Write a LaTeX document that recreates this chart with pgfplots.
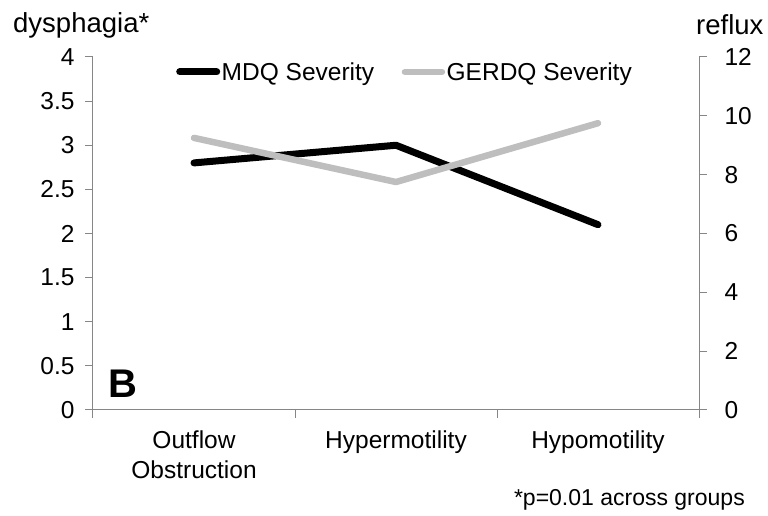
\documentclass[border=0pt]{standalone}
\usepackage{fontspec}
\setmainfont{Liberation Sans}
\usepackage{pgfplots}
\pgfplotsset{compat=1.18}
\definecolor{axisgray}{RGB}{134,134,134}
\definecolor{lgray}{RGB}{190,190,190}
\pgfplotsset{
  common/.style={
    at={(0,0)}, anchor=south west, scale only axis,
    width=606pt, height=353pt,
    xmin=-0.5, xmax=2.5,
    axis line style={axisgray, line width=1pt, -},
    tick align=outside, major tick length=8pt, minor tick length=8pt,
    tick style={axisgray, line width=1pt},
    /pgf/number format/assume math mode=true,
    ticklabel style={font=\fontsize{24.5}{28}\selectfont},
    clip=false,
  }
}
\begin{document}
\begin{tikzpicture}[x=1pt,y=1pt]
\useasboundingbox (-93,-106) rectangle (675,410);
\begin{axis}[common,
  ymin=0, ymax=4,
  axis x line*=bottom, axis y line*=left,
  ytick={0,0.5,1,1.5,2,2.5,3,3.5,4},
  yticklabels={0,0.5,1,1.5,2,2.5,3,3.5,4},
  yticklabel style={xshift=-7pt},
  xtick={0,1,2},
  xticklabels={{Outflow\\Obstruction},Hypermotility,Hypomotility},
  major x tick style={draw=none},
  minor xtick={-0.5,0.5,1.5,2.5},
  xticklabel style={align=center, yshift=-9pt, font=\fontsize{24.5}{30}\selectfont},
]
\addplot[black, line width=7pt, line cap=round, line join=round] coordinates {(0,2.8) (1,3.0) (2,2.1)};
\end{axis}
\begin{axis}[common,
  ymin=0, ymax=12,
  hide x axis, axis y line*=right,
  ytick={0,2,4,6,8,10,12},
  yticklabels={0,2,4,6,8,10,12},
  yticklabel style={xshift=14pt},
  legend columns=2,
  legend image code/.code={\draw[#1, line cap=round] (0pt,0pt) -- (37pt,0pt);},
  legend style={at={(0.137,0.9575)}, anchor=west, draw=none, fill=none, inner sep=0pt,
    font=\fontsize{24.5}{28}\selectfont,
    nodes={inner sep=1.5pt},
    /tikz/every even column/.append style={column sep=26pt}},
]
\addlegendimage{black, line width=7pt}
\addlegendentry{MDQ Severity}
\addplot[lgray, line width=6.5pt, line cap=round, line join=round] coordinates {(0,9.25) (1,7.75) (2,9.75)};
\addlegendentry{GERDQ Severity}
\end{axis}
\node[anchor=base west, inner sep=0pt, font=\fontsize{27.5}{30}\selectfont] at (-80,377) {dysphagia*};
\node[anchor=base west, inner sep=0pt, font=\fontsize{27.5}{30}\selectfont] at (603,375) {reflux};
\node[anchor=base west, inner sep=0pt, font=\bfseries\fontsize{40}{44}\selectfont] at (15,12) {B};
\node[anchor=base east, inner sep=0pt, font=\fontsize{23}{26}\selectfont] at (652,-96) {*p=0.01 across groups};
\end{tikzpicture}
\end{document}
